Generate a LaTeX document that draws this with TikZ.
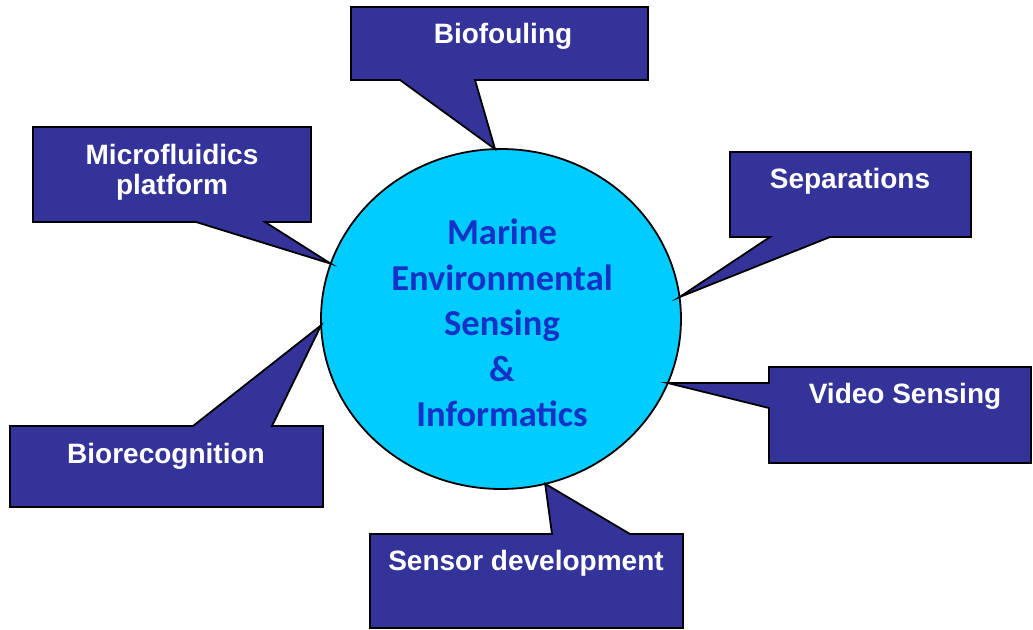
\documentclass[tikz,border=0pt]{standalone}
\usepackage{fontspec}
\setmainfont{Liberation Sans}
\newfontfamily\hubfont{Carlito}
\usetikzlibrary{shapes.geometric}

\definecolor{calloutblue}{HTML}{333399}
\definecolor{hubcyan}{HTML}{00CCFF}
\definecolor{hubtext}{RGB}{20,50,200}

\tikzset{
  callout/.style={fill=calloutblue, draw=black, line width=1.8pt, line join=miter},
  topic/.style={text=white, font=\bfseries\fontsize{28}{30}\selectfont, align=center, anchor=base},
  hub/.style={ellipse, fill=hubcyan, draw=black, line width=1.8pt, minimum width=360pt,
    minimum height=340pt, inner sep=0pt, outer sep=0pt},
  hubtitle/.style={text=hubtext, font=\hubfont\bfseries\fontsize{36.5}{45.5}\selectfont, align=center}
}

\begin{document}
\begin{tikzpicture}[x=1pt, y=-1pt]
\useasboundingbox (0,0) rectangle (1033,629);

% centre
\node[hub] (hub) at (501,319) {};
\node[hubtitle] (title) at (502,323) {Marine\\Environmental\\Sensing\\\&\\Informatics};

% Biofouling
\draw[callout] (351,7) -- (648,7) -- (648,80) -- (475,80) -- (hub.92.4)
   -- (400,80) -- (351,80) -- cycle;
\node[topic] (bio) at (503,43) {Biofouling};

% Microfluidics platform
\draw[callout] (33,127) -- (311,127) -- (311,222) -- (265,222) -- (hub.162.9)
   -- (196,222) -- (33,222) -- cycle;
\node[topic] (micro) at (172,194) {Microfluidics\\platform};

% Separations
\draw[callout] (730,152) -- (971,152) -- (971,237) -- (830,237) -- (hub.7.1)
   -- (770,237) -- (730,237) -- cycle;
\node[topic] (sep) at (850,188) {Separations};

% Video Sensing
\draw[callout] (769,367) -- (1031,367) -- (1031,463) -- (769,463) -- (769,408)
   -- (hub.-21) -- (769,383) -- cycle;
\node[topic] (video) at (905,403) {Video Sensing};

% Biorecognition
\draw[callout] (10,426) -- (193,426) -- (hub.182.9) -- (272,426) -- (323,426)
   -- (323,507) -- (10,507) -- cycle;
\node[topic] (biorec) at (166,463) {Biorecognition};

% Sensor development
\draw[callout] (370,534) -- (552,534) -- (hub.-75.2) -- (630,534) -- (683,534)
   -- (683,628) -- (370,628) -- cycle;
\node[topic] (sensor) at (526,570) {Sensor development};

\end{tikzpicture}
\end{document}
